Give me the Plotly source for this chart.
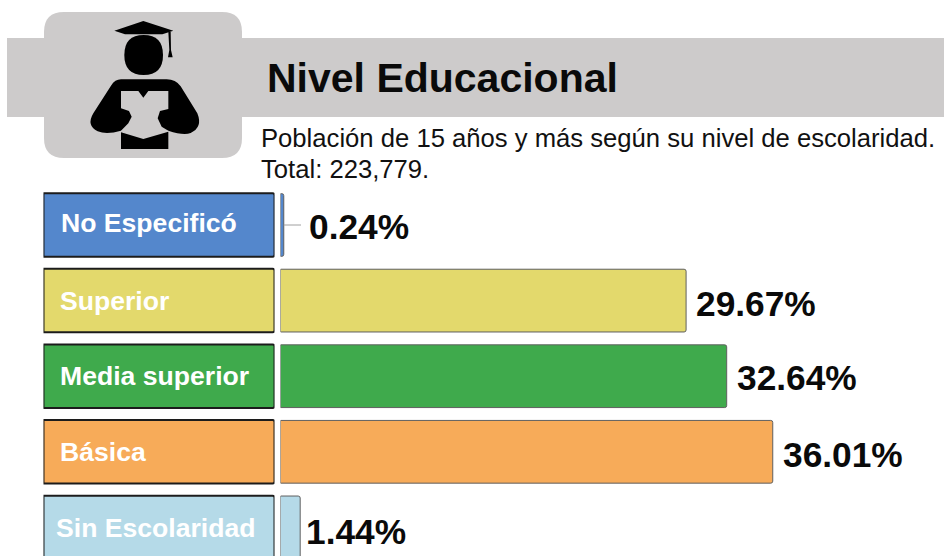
import re
import plotly.graph_objects as go

# ---- data ----
categories = ["No Especificó", "Superior", "Media superior", "Básica", "Sin Escolaridad"]
percentages = [0.24, 29.67, 32.64, 36.01, 1.44]
colors = ["#5487CC", "#E3D96C", "#3FAA4C", "#F7AB59", "#B5DAE8"]
title_text = "Nivel Educacional"
subtitle_lines = ["Población de 15 años y más según su nivel de escolaridad.", "Total: 223,779."]

W, H = 944, 556
FONT = "Liberation Sans"
GRAY = "#CDCBCB"

def px(x): return x / W
def py(y): return 1 - y / H

def zoom_path(d):
    """Icon outline written in 3x crop coordinates -> paper coordinates."""
    nums = iter(re.findall(r"[A-Z]|-?\d+\.?\d*", d))
    out, is_x = [], True
    for tok in nums:
        if tok.isalpha():
            out.append(tok); is_x = True
        else:
            v = float(tok)
            out.append(f"{px(85 + v / 3):.5f}" if is_x else f"{py(15 + v / 3):.5f}")
            is_x = not is_x
    return " ".join(out)

# category axis: 75.6 px pitch, first centre at y=225, plot spans y=190..556
PITCH, C0, TOP = 75.6, 225.0, 190.0
yrange = [(H - C0) / PITCH, (TOP - C0) / PITCH]
SCALE = 13.67
xmax = (W - 280.5) / SCALE

fig = go.Figure()
# label boxes
fig.add_bar(y=categories, x=[1] * len(categories), orientation="h", xaxis="x2", yaxis="y",
            width=0.84, marker=dict(color=colors, line=dict(color="#1c1c1c", width=2)),
            hoverinfo="skip", showlegend=False)
# value bars
fig.add_bar(y=categories, x=percentages, orientation="h", xaxis="x", yaxis="y",
            width=0.83, marker=dict(color=colors, line=dict(color="#5f5f5f", width=1)),
            showlegend=False)

rect = lambda x0, y0, x1, y1: dict(x0=px(x0), x1=px(x1), y0=py(y1), y1=py(y0))
def rr(x0, y0, x1, y1, r):
    c = lambda x, y: f"{px(x):.5f} {py(y):.5f}"
    return (f"M {c(x0+r,y0)} L {c(x1-r,y0)} Q {c(x1,y0)} {c(x1,y0+r)} L {c(x1,y1-r)} Q {c(x1,y1)} {c(x1-r,y1)} "
            f"L {c(x0+r,y1)} Q {c(x0,y1)} {c(x0,y1-r)} L {c(x0,y0+r)} Q {c(x0,y0)} {c(x0+r,y0)} Z")

icon_black = [
    "M 88 47 L 175 18 L 265 47 L 232 58 L 120 58 Z",
    "M 118 120 Q 118 60 176 60 Q 234 60 234 120 Q 234 180 176 180 Q 118 180 118 120 Z",
    "M 250 50 L 257 50 L 258 105 L 263 127 L 249 127 L 253 105 Z",
    "M 108 193 L 245 193 Q 272 193 287 214 L 337 295 Q 354 337 317 354 Q 295 362 250 347 L 108 347 Q 65 360 38 349 Q 3 332 25 295 L 78 212 Q 90 193 108 193 Z",
]
icon_page = ("M 108 228 L 160 228 L 175 248 L 190 228 L 250 228 L 250 282 L 225 288 L 218 310 L 230 335 "
             "L 250 347 L 250 350 L 175 372 L 108 350 L 108 347 L 130 325 L 140 305 L 132 288 L 108 280 Z")
icon_book = "M 108 352 L 175 372 L 250 350 L 250 402 L 108 402 Z"

shapes = [
    dict(type="rect", xref="paper", yref="paper", layer="below", fillcolor=GRAY, line_width=0, **rect(7, 38, 944, 117)),
    dict(type="path", xref="paper", yref="paper", layer="below", fillcolor=GRAY, line_width=0, path=rr(44, 12, 242, 158, 20)),
]
for d in icon_black:
    shapes.append(dict(type="path", xref="paper", yref="paper", fillcolor="#000", line_width=0, path=zoom_path(d)))
shapes.append(dict(type="path", xref="paper", yref="paper", fillcolor=GRAY, line_width=0, path=zoom_path(icon_page)))
shapes.append(dict(type="path", xref="paper", yref="paper", fillcolor="#000", line_width=0, path=zoom_path(icon_book)))
# leader line of the smallest label
shapes.append(dict(type="line", xref="x", yref="y", x0=percentages[0], x1=1.5, y0=0, y1=0,
                   line=dict(color="#A0A0A0", width=1)))

annotations = [
    dict(x=px(267), y=py(78), text=f"<b>{title_text}</b>", font=dict(size=41, color="#0a0a0a", family=FONT)),
    dict(x=px(261), y=py(138), text=subtitle_lines[0], font=dict(size=25.65, color="#111", family=FONT)),
    dict(x=px(261), y=py(169), text=subtitle_lines[1], font=dict(size=25.65, color="#111", family=FONT)),
]
for a in annotations:
    a.update(xref="paper", yref="paper", xanchor="left", yanchor="middle", showarrow=False, xshift=-2)

label_x = [61, 60, 60, 60, 56]
label_yshift = [2, 0, 0, 0, -1]
for cat, lx, dy in zip(categories, label_x, label_yshift):
    annotations.append(dict(xref="paper", yref="y", x=px(lx), y=cat, xanchor="left", yanchor="middle",
                            showarrow=False, xshift=-2, yshift=dy,
                            text=f"<b>{cat}</b>", font=dict(size=26.6, color="#fff", family=FONT)))

value_dx = [25, 9.5, 10, 10, 6]
value_dy = [-1, -3, -1, -3, -4]
for cat, v, dx, dy in zip(categories, percentages, value_dx, value_dy):
    annotations.append(dict(xref="x", yref="y", x=v, y=cat, xanchor="left", yanchor="middle",
                            showarrow=False, xshift=dx - 2, yshift=dy,
                            text=f"<b>{v:.2f}%</b>", font=dict(size=35.3, color="#0a0a0a", family=FONT)))

fig.update_layout(
    width=W, height=H, margin=dict(l=0, r=0, t=0, b=0, pad=0), autosize=False,
    paper_bgcolor="#fff", plot_bgcolor="rgba(0,0,0,0)", barmode="overlay", barcornerradius=2,
    showlegend=False, shapes=shapes, annotations=annotations,
    xaxis=dict(domain=[px(280.5), 1], range=[0, xmax], visible=False, fixedrange=True),
    xaxis2=dict(domain=[px(43.5), px(274.5)], range=[0, 1], visible=False, fixedrange=True, anchor="y"),
    yaxis=dict(domain=[0, py(TOP)], range=yrange, visible=False, type="category",
               categoryorder="array", categoryarray=categories, fixedrange=True),
)
fig.write_html("out.html", config=dict(displayModeBar=False),
               post_script="document.body.style.margin='0';document.body.style.overflow='hidden';")
